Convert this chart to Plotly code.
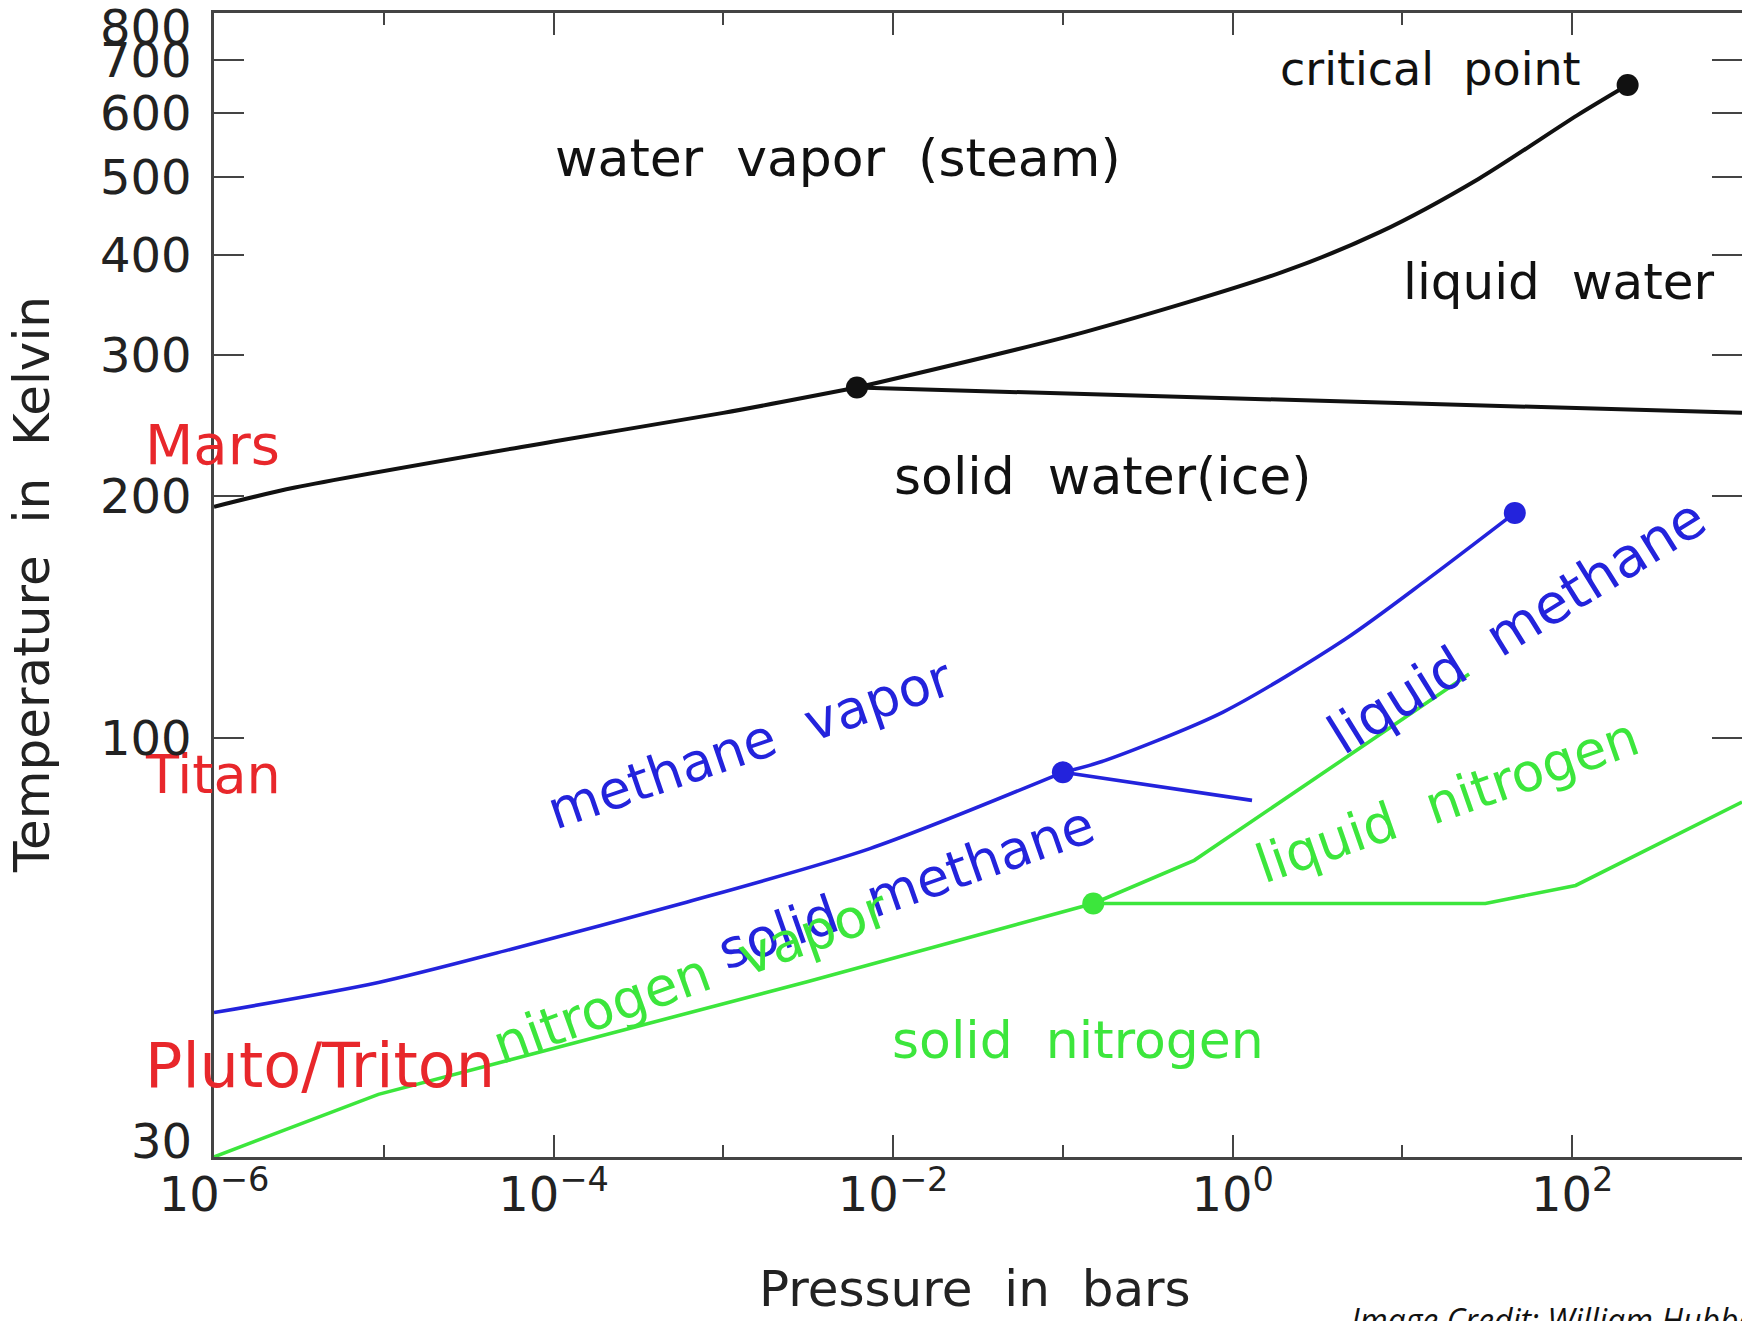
import math
import plotly.graph_objects as go

# ---------------- data (pressure in bar, temperature in K) ----------------
water_sub_P = [1e-6, 3e-6, 1e-4, 1e-3, 0.00612]
water_sub_T = [194, 205, 234, 254, 273.16]
water_vap_P = [0.00612, 0.1355, 1.955, 7.41, 28.2, 106.9, 212]
water_vap_T = [273.16, 320.5, 380.4, 427, 497.5, 596.7, 651]
water_melt_P = [0.00612, 1000]
water_melt_T = [273.16, 254]
water_pts_P = [0.00612, 212]
water_pts_T = [273.16, 651]

methane_sub_P = [1e-6, 9.3e-6, 5.7e-5, 5.7e-4, 7.3e-3, 0.1]
methane_sub_T = [45.4, 49.5, 54.5, 62.1, 72.7, 90.5]
methane_vap_P = [0.1, 0.166, 0.878, 4.64, 14.2, 45.9]
methane_vap_T = [90.5, 93.2, 107.6, 132.8, 157.8, 190.6]
methane_melt_P = [0.1, 1.30]
methane_melt_T = [90.5, 83.5]
methane_pts_P = [0.1, 45.9]
methane_pts_T = [90.5, 190.6]

nitrogen_sub_P = [1e-6, 9.3e-6, 3.12e-3, 0.151]
nitrogen_sub_T = [30, 35.9, 49.6, 62.1]
nitrogen_vap_P = [0.151, 0.594, 24.7]
nitrogen_vap_T = [62.1, 70.3, 120]
nitrogen_melt_P = [0.151, 30.8, 104.8, 1000]
nitrogen_melt_T = [62.1, 62.1, 65.4, 83.1]
nitrogen_pts_P = [0.151]
nitrogen_pts_T = [62.1]

x_tickvals = [1e-6, 1e-4, 1e-2, 1, 1e2]
x_ticktext = ["10<sup>\u22126</sup>", "10<sup>\u22124</sup>", "10<sup>\u22122</sup>",
              "10<sup>0</sup>", "10<sup>2</sup>"]
x_minorvals = [1e-5, 1e-3, 1e-1, 10, 1e3]
y_tickvals = [30, 100, 200, 300, 400, 500, 600, 700, 800]
y_ticktext = ["30", "100", "200", "300", "400", "500", "600", "700", "800"]

# labels inside the plot: text, log10(P), log10(T), colour key, size, angle
label_text = ["critical\u00a0\u00a0point", "water\u00a0\u00a0vapor\u00a0\u00a0(steam)",
              "liquid\u00a0\u00a0water", "solid\u00a0\u00a0water(ice)",
              "Pluto/Triton",
              "methane\u00a0\u00a0vapor", "solid\u00a0\u00a0methane", "liquid\u00a0\u00a0methane",
              "liquid\u00a0\u00a0nitrogen", "nitrogen\u00a0\u00a0vapor", "solid\u00a0\u00a0nitrogen"]
label_logP = [1.164, -2.326, 1.924, -0.761, -5.378,
              -2.843, -1.927, 1.675, 1.263, -3.19, -0.912]
label_logT = [2.834, 2.723, 2.568, 2.3255, 1.5914,
              1.993, 1.813, 2.1385, 1.921, 1.7022, 1.6233]
label_color = ["k", "k", "k", "k", "r", "b", "b", "b", "g", "g", "g"]
label_size = [46, 52, 50, 52, 62, 53, 53, 55, 53, 54, 52]
label_angle = [0, 0, 0, 0, 0, -18.9, -19.3, -31.8, -19.2, -19.8, 0]

# planet labels sitting on the left axis (pixel centres in the page)
planet_text = ["Mars", "Titan"]
planet_px = [212, 213]
planet_py = [444, 774]
planet_size = [56, 54]

# ---------------- styles ----------------
COL = {"k": "#111111", "b": "#2323dc", "g": "#3ce63c", "r": "#e8272b"}
FONT = "DejaVu Sans"
W, H = 1742, 1321
ML, MR, MT, MB = 214, 0, 13, 164
PW, PH = W - ML - MR, H - MT - MB


def px2paper_x(px):
    return (px - ML) / PW


def py2paper_y(py):
    return (MT + PH - py) / PH


fig = go.Figure()


def add_line(P, T, c, w=3.6, shape="linear"):
    fig.add_trace(go.Scatter(x=P, y=T, mode="lines",
                             line=dict(color=COL[c], width=w, shape=shape, smoothing=0.8),
                             hoverinfo="skip"))


def add_pts(P, T, c):
    fig.add_trace(go.Scatter(x=P, y=T, mode="markers",
                             marker=dict(color=COL[c], size=22), hoverinfo="skip"))


add_line(water_sub_P, water_sub_T, "k", 4, "spline")
add_line(water_vap_P, water_vap_T, "k", 4, "spline")
add_line(water_melt_P, water_melt_T, "k", 4)
add_line(methane_sub_P, methane_sub_T, "b", 3.6, "spline")
add_line(methane_vap_P, methane_vap_T, "b", 3.6, "spline")
add_line(methane_melt_P, methane_melt_T, "b", 3.6)
add_line(nitrogen_sub_P, nitrogen_sub_T, "g", 3.6)
add_line(nitrogen_vap_P, nitrogen_vap_T, "g", 3.6)
add_line(nitrogen_melt_P, nitrogen_melt_T, "g", 3.6)
add_pts(water_pts_P, water_pts_T, "k")
add_pts(methane_pts_P, methane_pts_T, "b")
add_pts(nitrogen_pts_P, nitrogen_pts_T, "g")

annotations = []
for t, lx, ly, c, s, a in zip(label_text, label_logP, label_logT, label_color, label_size, label_angle):
    annotations.append(dict(x=lx, y=ly, xref="x", yref="y", text=t, showarrow=False,
                            textangle=a, xanchor="center", yanchor="middle",
                            font=dict(family=FONT, size=s, color=COL[c])))
for t, px, py, s in zip(planet_text, planet_px, planet_py, planet_size):
    annotations.append(dict(x=px2paper_x(px), y=py2paper_y(py), xref="paper", yref="paper",
                            text=t, showarrow=False, xanchor="center", yanchor="middle",
                            font=dict(family=FONT, size=s, color=COL["r"])))

# y tick labels (end labels are nudged inside the frame, as in the reference)
for i, (v, t) in enumerate(zip(y_tickvals, y_ticktext)):
    shift = 0
    if i == 0:
        shift = 16
    elif i == len(y_tickvals) - 1:
        shift = -14
    annotations.append(dict(x=px2paper_x(194), y=math.log10(v), xref="paper", yref="y",
                            text=t, showarrow=False, xanchor="right", yanchor="middle",
                            yshift=shift,
                            font=dict(family=FONT, size=48, color="#222222")))

# axis titles
annotations.append(dict(x=px2paper_x(32), y=0.5, xref="paper", yref="paper",
                        text="Temperature\u00a0\u00a0in\u00a0\u00a0Kelvin", textangle=-90,
                        showarrow=False, xanchor="center", yanchor="middle",
                        font=dict(family=FONT, size=50, color="#222222")))
annotations.append(dict(x=px2paper_x(975), y=py2paper_y(1289), xref="paper", yref="paper",
                        text="Pressure\u00a0\u00a0in\u00a0\u00a0bars",
                        showarrow=False, xanchor="center", yanchor="middle",
                        font=dict(family=FONT, size=50, color="#222222")))
# credit (cut by the page edge, as in the reference)
annotations.append(dict(x=px2paper_x(1350), y=py2paper_y(1297), xref="paper", yref="paper",
                        text="<i>Image Credit: William Hubbard</i>",
                        showarrow=False, xanchor="left", yanchor="top", borderpad=0,
                        font=dict(family="Open Sans", size=32, color="#111111")))

axis_common = dict(showgrid=False, zeroline=False, showline=True, linecolor="#444444",
                   linewidth=2.5, mirror="ticks", ticks="inside", tickcolor="#444444",
                   tickwidth=2, automargin=False)

fig.update_layout(
    width=W, height=H,
    margin=dict(l=ML, r=MR, t=MT, b=MB, autoexpand=False),
    paper_bgcolor="white", plot_bgcolor="white",
    showlegend=False,
    annotations=annotations,
    xaxis=dict(type="log", range=[-6, 3], tickmode="array", tickvals=x_tickvals,
               ticktext=x_ticktext, ticklen=22, ticklabelstandoff=-6,
               tickfont=dict(family=FONT, size=48, color="#222222"),
               minor=dict(tickmode="array", tickvals=x_minorvals, ticks="inside",
                          ticklen=12, tickwidth=2, tickcolor="#444444"),
               **axis_common),
    yaxis=dict(type="log", range=[1.4770, 2.9034], tickmode="array", tickvals=y_tickvals,
               showticklabels=False, ticklen=30,
               **axis_common),
)

fig.write_html(
    "out.html",
    config={"displayModeBar": False},
    post_script=("document.body.style.margin='0px';"
                 "document.body.style.overflow='hidden';"
                 "document.documentElement.style.overflow='hidden';"),
)
